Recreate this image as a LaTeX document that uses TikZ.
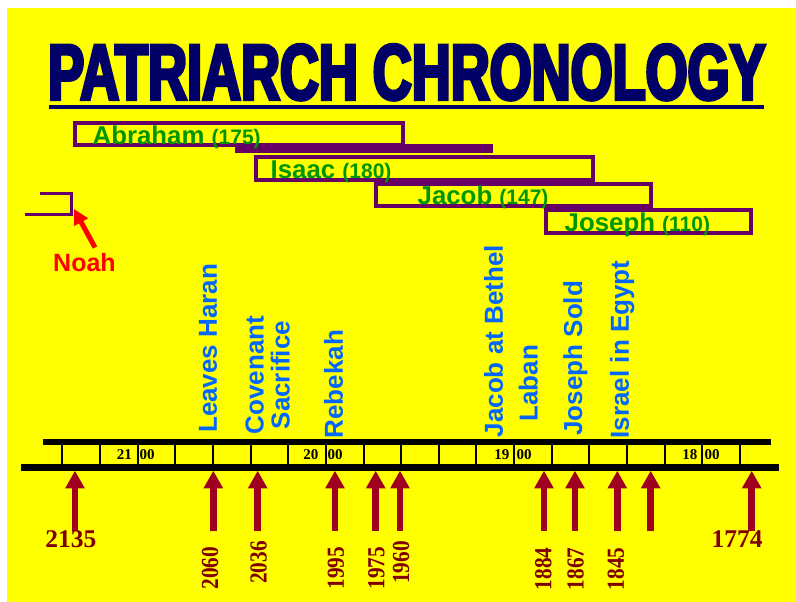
\documentclass[tikz,border=0pt]{standalone}
\usepackage{fontspec}
\setmainfont{Liberation Sans}
\newfontfamily\datefont{Liberation Serif Bold}
\newfontfamily\datecond{Liberation Serif Bold}[FakeStretch=0.87]
\newfontfamily\titlefont{Liberation Sans Bold}[FakeStretch=0.683,FakeBold=4]
\usetikzlibrary{arrows.meta}
\definecolor{bgyellow}{RGB}{255,255,0}
\definecolor{navy}{RGB}{0,0,102}
\definecolor{purp}{RGB}{102,0,102}
\definecolor{lifegreen}{RGB}{0,150,0}
\definecolor{eventblue}{RGB}{0,102,255}
\definecolor{arrowred}{RGB}{160,0,32}
\definecolor{datered}{RGB}{128,0,0}
\begin{document}
\begin{tikzpicture}[x=1pt,y=-1pt,
  lifebox/.style={draw=purp,line width=4pt},
  lifename/.style={anchor=base west,inner sep=0pt,text=lifegreen,font=\bfseries\fontsize{25.8}{26}\selectfont},
  event/.style={rotate=90,anchor=base west,inner sep=0pt,text=eventblue,font=\bfseries\fontsize{26}{27}\selectfont},
  datearrow/.style={draw=arrowred,line width=6.7pt,-{Triangle[length=17.6pt,width=18.3pt]}},
  datehoriz/.style={anchor=base,inner sep=0pt,text=datered,font=\datefont\fontsize{25.5}{26}\selectfont},
  datevert/.style={rotate=90,anchor=center,inner sep=0pt,text=datered,font=\datecond\fontsize{24.5}{25}\selectfont},
  cellnum/.style={inner sep=0pt,text=black,font=\datefont\fontsize{15}{15}\selectfont},
  timeline/.style={draw=black},
]
\useasboundingbox (0,0) rectangle (796,602);
\fill[bgyellow] (7,8) rectangle (796,602);
% title
\node[anchor=base west,inner sep=0pt,text=navy,font=\titlefont\fontsize{79}{79}\selectfont] (title) at (48,99.5) {PATRIARCH CHRONOLOGY};
\draw[navy,line width=4pt] (49,107) -- (764,107);
% life spans
\draw[lifebox] (75,123) rectangle (402.7,144.7);
\fill[purp] (235,144) rectangle (493,152.7);
\draw[lifebox] (256,157) rectangle (593,179.7);
\draw[lifebox] (375.5,183.7) rectangle (651.3,205.7);
\draw[lifebox] (546,210.3) rectangle (750.5,233.3);
\node[lifename] (abraham) at (92.5,144) {Abraham {\fontsize{21}{21}\selectfont(175)}};
\node[lifename] (isaac) at (270.5,178) {Isaac {\fontsize{21}{21}\selectfont(180)}};
\node[lifename] (jacob) at (417.5,204) {Jacob {\fontsize{21}{21}\selectfont(147)}};
\node[lifename] (joseph) at (564.5,231) {Joseph {\fontsize{21}{21}\selectfont(110)}};
% Noah
\draw[purp,line width=3pt] (40,193.5) -- (71.7,193.5) -- (71.7,214) -- (25,214);
\node[anchor=base west,inner sep=0pt,text=red,font=\bfseries\fontsize{25}{25}\selectfont] (noah) at (53,271) {Noah};
\coordinate (noahstart) at (95,247.5);
\coordinate (noahtip) at (74,209);
\draw[red,line width=5pt,-{Triangle[length=15pt,width=15pt]}] (noahstart) -- (noahtip);
% events
\node[event] (haran) at (216.9,433) {Leaves Haran};
\node[event] (covenant) at (263.6,434.6) {Covenant};
\node[event] (sacrifice) at (289.5,429.5) {Sacrifice};
\node[event] (rebekah) at (342.8,438.5) {Rebekah};
\node[event] (bethel) at (502.8,437.5) {Jacob at Bethel};
\node[event] (laban) at (537.5,421.8) {Laban};
\node[event] (josephsold) at (582,435.7) {Joseph Sold};
\node[event] (egypt) at (628.8,438.5) {Israel in Egypt};
% timeline
\draw[timeline,line width=5.7pt] (43.3,442.2) -- (770.7,442.2);
\draw[timeline,line width=6.7pt] (20.7,467.7) -- (779.3,467.7);
\foreach \k in {0,...,18}
  \draw[timeline,line width=2pt] ({62.3+37.65*\k},445) -- ({62.3+37.65*\k},464.5);
\node[cellnum,anchor=base east] (c21) at (132,459.3) {21};
\node[cellnum,anchor=base west] (c2100) at (139.5,459.3) {00};
\node[cellnum,anchor=base east] (c20) at (318.5,459.3) {20};
\node[cellnum,anchor=base west] (c2000) at (327.5,459.3) {00};
\node[cellnum,anchor=base east] (c19) at (509.5,459.3) {19};
\node[cellnum,anchor=base west] (c1900) at (516.5,459.3) {00};
\node[cellnum,anchor=base east] (c18) at (697.5,459.3) {18};
\node[cellnum,anchor=base west] (c1800) at (704.5,459.3) {00};
% date arrows
\foreach \x in {75,213.3,257.7,335,375.7,400,544,575,617.3,650.7,751.7}
  \draw[datearrow] (\x,530.7) -- (\x,470.7);
% dates
\node[datehoriz] (y2135) at (70.8,547.3) {2135};
\node[datehoriz] (y1774) at (737,547.3) {1774};
\node[datevert] (y2060) at (210,568.3) {2060};
\node[datevert] (y2036) at (258.7,562.5) {2036};
\node[datevert] (y1995) at (335.8,568) {1995};
\node[datevert] (y1975) at (376.5,568) {1975};
\node[datevert] (y1960) at (401,562.5) {1960};
\node[datevert] (y1884) at (543.3,568.8) {1884};
\node[datevert] (y1867) at (575.5,568.8) {1867};
\node[datevert] (y1845) at (615.8,568.8) {1845};
\end{tikzpicture}
\end{document}
